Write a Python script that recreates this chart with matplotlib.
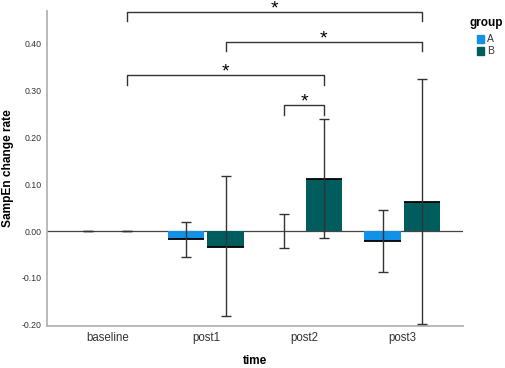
import numpy as np
import matplotlib.pyplot as plt

plt.rcParams['font.family'] = ['Liberation Sans', 'DejaVu Sans']

# data
times = ['baseline', 'post1', 'post2', 'post3']
groups = ['A', 'B']
colors = ['#1192e8', '#005d5d']

mean_A = [0.0, -0.017, 0.0, -0.021]
low_A = [0.0, -0.055, -0.036, -0.088]
high_A = [0.0, 0.020, 0.036, 0.045]

mean_B = [0.0, -0.033, 0.111, 0.063]
low_B = [0.0, -0.182, -0.015, -0.199]
high_B = [0.0, 0.117, 0.239, 0.324]

# significance brackets: (time index, group index) pairs, bracket height
sig_pairs = [((0, 1), (3, 1)), ((1, 1), (3, 1)), ((0, 1), (2, 1)), ((2, 0), (2, 1))]
sig_heights = [0.468, 0.404, 0.333, 0.269]

fig = plt.figure(figsize=(5.05, 3.68), dpi=100)
ax = fig.add_axes([0.093, 0.114, 0.824, 0.857])

x = np.arange(len(times))
offset = 0.2
width = 0.37

series = [(mean_A, low_A, high_A), (mean_B, low_B, high_B)]
for gi, (m, lo, hi) in enumerate(series):
    xs = x + (gi * 2 - 1) * offset
    m = np.array(m)
    ax.bar(xs, m, width=width, color=colors[gi], edgecolor='none', zorder=2)
    # black line at the value end of each non-empty bar
    nz = np.abs(m) > 0.002
    ax.hlines(m[nz], xs[nz] - width / 2, xs[nz] + width / 2, color='black', lw=1.3, zorder=3)
    yerr = np.array([m - np.array(lo), np.array(hi) - m])
    ax.errorbar(xs, m, yerr=yerr, fmt='none', ecolor='#333333', elinewidth=1.0,
                capsize=3.6, capthick=1.0, zorder=4)

ax.axhline(0, color='#444444', lw=0.9, zorder=1)

# significance brackets
for ((t1, g1), (t2, g2)), h in zip(sig_pairs, sig_heights):
    x1 = x[t1] + (g1 * 2 - 1) * offset
    x2 = x[t2] + (g2 * 2 - 1) * offset
    ax.plot([x1, x1, x2, x2], [h - 0.02, h, h, h - 0.02], color='#333333', lw=1.0,
            clip_on=False, zorder=5)
    ax.text((x1 + x2) / 2, h + 0.006, '*', ha='center', va='center', fontsize=14,
            clip_on=False)

ax.set_xlim(-0.62, 3.62)
ax.set_ylim(-0.203, 0.471)
ax.set_xticks(x)
ax.set_xticklabels(times, fontsize=8.3, color='#333333')
ax.set_yticks([-0.2, -0.1, 0.0, 0.1, 0.2, 0.3, 0.4])
ax.set_yticklabels(['%.2f' % v for v in ax.get_yticks()], fontsize=6.3, color='#333333')
ax.tick_params(length=0, pad=4)

ax.set_xlabel('time', fontsize=8.5, fontweight='bold', labelpad=8)
ax.set_ylabel('SampEn change rate', fontsize=8.6, fontweight='bold', va='center')
ax.yaxis.set_label_coords(-0.094, 0.5)

for s in ['top', 'right']:
    ax.spines[s].set_visible(False)
for s in ['left', 'bottom']:
    ax.spines[s].set_color('#b4b4b4')
    ax.spines[s].set_linewidth(1.3)

# legend
fig.text(0.962, 0.938, 'group', fontsize=8.5, fontweight='bold', ha='center', va='center')
for gi, g in enumerate(groups):
    yy = 0.894 - gi * 0.033
    fig.patches.append(plt.Rectangle((0.944, yy - 0.011), 0.015, 0.022, color=colors[gi],
                                     transform=fig.transFigure, figure=fig))
    fig.text(0.964, yy, g, fontsize=7.5, ha='left', va='center', color='#333333')

fig.savefig('out.png', dpi=100)
